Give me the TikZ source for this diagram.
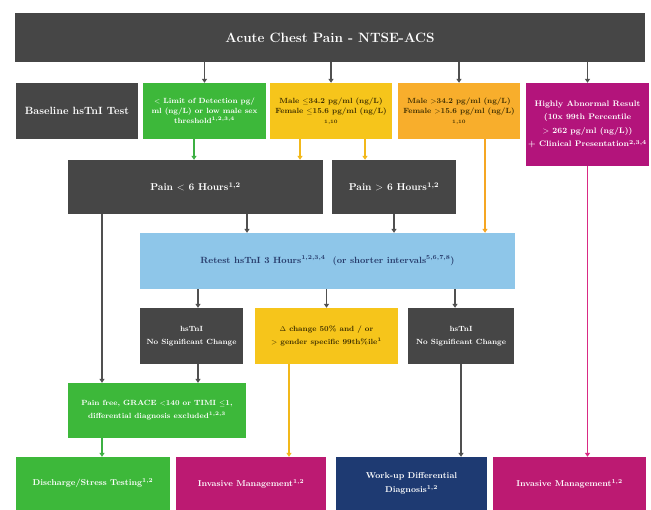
\documentclass[tikz,border=0pt]{standalone}
\usetikzlibrary{arrows.meta}
\definecolor{dg}{HTML}{464646}
\definecolor{gr}{HTML}{3DB83A}
\definecolor{ye}{HTML}{F6C51B}
\definecolor{orb}{HTML}{F8AE2C}
\definecolor{mg}{HTML}{B3147B}
\definecolor{mgb}{HTML}{BC1A72}
\definecolor{lb}{HTML}{8EC6E9}
\definecolor{nv}{HTML}{1E3A72}
\definecolor{ln}{HTML}{505050}
\definecolor{yl}{HTML}{F2B81A}
\definecolor{ol}{HTML}{F5A623}
\definecolor{pl}{HTML}{D92A84}
\definecolor{gl}{HTML}{3CB043}
\definecolor{dt}{HTML}{3B2C00}
\definecolor{bt}{HTML}{263A6A}
\begin{document}
\begin{tikzpicture}[x=1pt,y=-1pt,
  box/.style={rectangle, inner sep=2pt, align=center, text=white},
  wh/.style 2 args={minimum width=#1pt, minimum height=#2pt},
  fs/.style 2 args={font=\bfseries\fontsize{#1}{#2}\selectfont},
  arr/.style={draw=ln, line width=1.5pt, -{Triangle[width=5pt,length=4pt]}},
  garr/.style={arr, draw=gl},
  yarr/.style={arr, draw=yl},
  oarr/.style={arr, draw=ol},
  parr/.style={arr, draw=pl}]
\useasboundingbox (0,0) rectangle (651,510);
% top
\node[box, fill=dg, wh={630}{49}, fs={13.5}{16}] (top) at (330,37.5) {Acute Chest Pain - NTSE-ACS};
% row 2
\node[box, fill=dg, wh={122}{56}, fs={10.5}{13}] (base) at (77,111) {Baseline hsTnI Test};
\node[box, fill=gr, wh={123}{56}, fs={7.5}{10}] (g1) at (204.5,111) {$<$ Limit of Detection pg/\\ml (ng/L) or low male sex\\threshold\textsuperscript{1,2,3,4}};
\node[box, fill=ye, wh={122}{56}, fs={7.5}{10}, text=dt] (y1) at (331,111) {Male $\leq$34.2 pg/ml (ng/L)\\Female $\leq$15.6 pg/ml (ng/L)\\{\fontsize{5}{6}\selectfont 1,10}};
\node[box, fill=orb, wh={122}{56}, fs={7.5}{10}, text=dt] (o1) at (459,111) {Male $>$34.2 pg/ml (ng/L)\\Female $>$15.6 pg/ml (ng/L)\\{\fontsize{5}{6}\selectfont 1,10}};
\node[box, fill=mg, wh={121}{83}, fs={8}{13.5}] (m1) at (587.5,124.5) {Highly Abnormal Result\\(10x 99th Percentile\\$>$ 262 pg/ml (ng/L))\\+ Clinical Presentation\textsuperscript{2,3,4}};
% row 3
\node[box, fill=dg, wh={255}{54}, fs={10}{12}] (p1) at (195.5,187) {Pain $<$ 6 Hours\textsuperscript{1,2}};
\node[box, fill=dg, wh={124}{54}, fs={10}{12}] (p2) at (394,187) {Pain $>$ 6 Hours\textsuperscript{1,2}};
% blue
\node[box, fill=lb, wh={375}{56}, fs={9}{11}, text=bt] (bl) at (327.5,261) {Retest hsTnI 3 Hours\textsuperscript{1,2,3,4} \ (or shorter intervals\textsuperscript{5,6,7,8})};
% row 4
\node[box, fill=dg, wh={103}{56}, fs={7.5}{13}] (h1) at (191.5,336) {hsTnI\\No Significant Change};
\node[box, fill=ye, wh={143}{56}, fs={7.5}{13}, text=dt] (y2) at (326.5,336) {$\Delta$ change 50\% and / or\\$>$ gender specific 99th\%ile\textsuperscript{1}};
\node[box, fill=dg, wh={106}{56}, fs={7.5}{13}] (h2) at (461,336) {hsTnI\\No Significant Change};
% pain free
\node[box, fill=gr, wh={178}{55}, fs={7.5}{13}] (pf) at (157,410.5) {Pain free, GRACE $<$140 or TIMI $\leq$1,\\differential diagnosis excluded\textsuperscript{1,2,3}};
% bottom
\node[box, fill=gr, wh={154}{53}, fs={8.5}{13}] (d) at (93,483.5) {Discharge/Stress Testing\textsuperscript{1,2}};
\node[box, fill=mgb, wh={150}{53}, fs={8.5}{13}] (im1) at (251,483.5) {Invasive Management\textsuperscript{1,2}};
\node[box, fill=nv, wh={151}{53}, fs={8.5}{14}] (wu) at (411.5,483.5) {Work-up Differential\\Diagnosis\textsuperscript{1,2}};
\node[box, fill=mgb, wh={153}{53}, fs={8.5}{13}] (im2) at (569.5,483.5) {Invasive Management\textsuperscript{1,2}};
% connectors
\draw[arr] (top.south -| g1.north) -- (g1.north);
\draw[arr] (top.south -| y1.north) -- (y1.north);
\draw[arr] (top.south -| o1.north) -- (o1.north);
\draw[arr] (top.south -| m1.north) -- (m1.north);
\draw[garr] ([xshift=-10.5pt]g1.south) -- ([xshift=-10.5pt]g1.south |- p1.north);
\draw[yarr] ([xshift=-31pt]y1.south) -- ([xshift=-31pt]y1.south |- p1.north);
\draw[yarr] ([xshift=34pt]y1.south) -- ([xshift=34pt]y1.south |- p2.north);
\draw[oarr] ([xshift=26pt]o1.south) -- ([xshift=26pt]o1.south |- bl.north);
\draw[parr] (m1.south) -- (m1.south |- im2.north);
\draw[arr] ([xshift=51.5pt]p1.south) -- ([xshift=51.5pt]p1.south |- bl.north);
\draw[arr] (p2.south) -- (p2.south |- bl.north);
\draw[arr] ([xshift=-93.5pt]p1.south) -- ([xshift=-93.5pt]p1.south |- pf.north);
\draw[arr] ([xshift=6.5pt]bl.south -| h1.north) -- ([xshift=6.5pt]h1.north);
\draw[arr] (bl.south -| y2.north) -- (y2.north);
\draw[arr] ([xshift=-6pt]bl.south -| h2.north) -- ([xshift=-6pt]h2.north);
\draw[arr] ([xshift=6.5pt]h1.south) -- ([xshift=6.5pt]h1.south |- pf.north);
\draw[garr] ([xshift=-55pt]pf.south) -- ([xshift=-55pt]pf.south |- d.north);
\draw[yarr] ([xshift=-37.5pt]y2.south) -- ([xshift=-37.5pt]y2.south |- im1.north);
\draw[arr] (h2.south) -- (h2.south |- wu.north);
\end{tikzpicture}
\end{document}
